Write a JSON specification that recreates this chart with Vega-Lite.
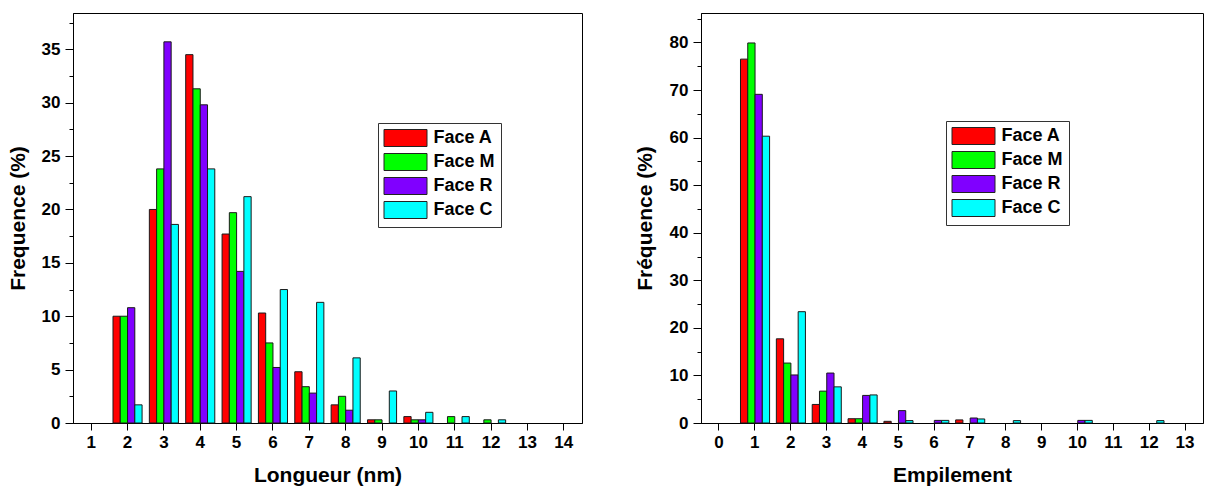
{
  "$schema": "https://vega.github.io/schema/vega-lite/v6.json",
  "background": "white",
  "padding": {"left": 6, "top": 12, "right": 0, "bottom": 0},
  "spacing": 50,
  "datasets": {
    "longueur": [
      {"x": 2, "face": "Face A", "value": 10.0}, {"x": 2, "face": "Face M", "value": 10.0}, {"x": 2, "face": "Face R", "value": 10.8}, {"x": 2, "face": "Face C", "value": 1.7},
      {"x": 3, "face": "Face A", "value": 20.0}, {"x": 3, "face": "Face M", "value": 23.8}, {"x": 3, "face": "Face R", "value": 35.7}, {"x": 3, "face": "Face C", "value": 18.6},
      {"x": 4, "face": "Face A", "value": 34.5}, {"x": 4, "face": "Face M", "value": 31.3}, {"x": 4, "face": "Face R", "value": 29.8}, {"x": 4, "face": "Face C", "value": 23.8},
      {"x": 5, "face": "Face A", "value": 17.7}, {"x": 5, "face": "Face M", "value": 19.7}, {"x": 5, "face": "Face R", "value": 14.2}, {"x": 5, "face": "Face C", "value": 21.2},
      {"x": 6, "face": "Face A", "value": 10.3}, {"x": 6, "face": "Face M", "value": 7.5}, {"x": 6, "face": "Face R", "value": 5.2}, {"x": 6, "face": "Face C", "value": 12.5},
      {"x": 7, "face": "Face A", "value": 4.8}, {"x": 7, "face": "Face M", "value": 3.4}, {"x": 7, "face": "Face R", "value": 2.8}, {"x": 7, "face": "Face C", "value": 11.3},
      {"x": 8, "face": "Face A", "value": 1.7}, {"x": 8, "face": "Face M", "value": 2.5}, {"x": 8, "face": "Face R", "value": 1.2}, {"x": 8, "face": "Face C", "value": 6.1},
      {"x": 9, "face": "Face A", "value": 0.3}, {"x": 9, "face": "Face M", "value": 0.3}, {"x": 9, "face": "Face C", "value": 3.0},
      {"x": 10, "face": "Face A", "value": 0.6}, {"x": 10, "face": "Face M", "value": 0.3}, {"x": 10, "face": "Face R", "value": 0.3}, {"x": 10, "face": "Face C", "value": 1.0},
      {"x": 11, "face": "Face M", "value": 0.6}, {"x": 11, "face": "Face C", "value": 0.6},
      {"x": 12, "face": "Face M", "value": 0.3}, {"x": 12, "face": "Face C", "value": 0.3}
    ],
    "empilement": [
      {"x": 1, "face": "Face A", "value": 76.5}, {"x": 1, "face": "Face M", "value": 79.9}, {"x": 1, "face": "Face R", "value": 69.1}, {"x": 1, "face": "Face C", "value": 60.3},
      {"x": 2, "face": "Face A", "value": 17.7}, {"x": 2, "face": "Face M", "value": 12.6}, {"x": 2, "face": "Face R", "value": 10.1}, {"x": 2, "face": "Face C", "value": 23.4},
      {"x": 3, "face": "Face A", "value": 3.9}, {"x": 3, "face": "Face M", "value": 6.7}, {"x": 3, "face": "Face R", "value": 10.5}, {"x": 3, "face": "Face C", "value": 7.6},
      {"x": 4, "face": "Face A", "value": 0.9}, {"x": 4, "face": "Face M", "value": 0.9}, {"x": 4, "face": "Face R", "value": 5.8}, {"x": 4, "face": "Face C", "value": 5.9},
      {"x": 5, "face": "Face A", "value": 0.35}, {"x": 5, "face": "Face R", "value": 2.6}, {"x": 5, "face": "Face C", "value": 0.5},
      {"x": 6, "face": "Face R", "value": 0.55}, {"x": 6, "face": "Face C", "value": 0.55},
      {"x": 7, "face": "Face A", "value": 0.65}, {"x": 7, "face": "Face R", "value": 1.05}, {"x": 7, "face": "Face C", "value": 0.85},
      {"x": 8, "face": "Face C", "value": 0.5},
      {"x": 10, "face": "Face R", "value": 0.55}, {"x": 10, "face": "Face C", "value": 0.55},
      {"x": 12, "face": "Face C", "value": 0.5}
    ]
  },
  "config": {
    "font": "Liberation Sans",
    "view": {"stroke": "#000", "strokeWidth": 1},
    "axis": {
      "grid": false,
      "domainColor": "#000", "domainWidth": 1,
      "tickColor": "#000", "tickWidth": 1,
      "labelColor": "#000", "labelFont": "Liberation Sans", "labelFontWeight": "bold", "labelFontSize": 17,
      "titleColor": "#000", "titleFont": "Liberation Sans", "titleFontWeight": "bold", "titleFontSize": 21
    },
    "legend": {
      "orient": "none",
      "symbolType": "M-2.6875,-1.0625H2.6875V1.0625H-2.6875Z",
      "symbolSize": 256,
      "symbolOffset": 12.5,
      "symbolStrokeColor": "#222",
      "symbolStrokeWidth": 1,
      "symbolOpacity": 1,
      "labelFont": "Liberation Sans",
      "labelFontWeight": "bold",
      "labelFontSize": 18,
      "labelColor": "#000",
      "labelOffset": 19,
      "labelLimit": 300,
      "rowPadding": 2,
      "padding": 6,
      "strokeColor": "#333",
      "fillColor": "white"
    }
  },
  "resolve": {"scale": {"color": "independent"}},
  "hconcat": [
    {
      "width": 509,
      "height": 410,
      "data": {"name": "longueur"},
      "mark": {"type": "bar", "stroke": "#1a1a1a", "strokeWidth": 1},
      "encoding": {
        "x": {
          "field": "x", "type": "ordinal",
          "scale": {"domain": [1,2,3,4,5,6,7,8,9,10,11,12,13,14], "paddingInner": 0, "paddingOuter": 0},
          "axis": {"title": "Longueur (nm)", "labelAngle": 0, "tickSize": 7, "labelPadding": 4, "titlePadding": 14}
        },
        "xOffset": {
          "field": "face", "type": "nominal",
          "scale": {"domain": ["Face A", "Face M", "Face R", "Face C"], "paddingInner": 0, "paddingOuter": 0.5}
        },
        "y": {
          "field": "value", "type": "quantitative",
          "scale": {"domain": [0, 38.4], "nice": false},
          "axis": {
            "title": "Frequence (%)",
            "values": [0,2.5,5,7.5,10,12.5,15,17.5,20,22.5,25,27.5,30,32.5,35,37.5],
            "labelExpr": "datum.value % 5 === 0 ? datum.label : ''",
            "tickSize": {"condition": {"test": "datum.value % 5 === 0", "value": 8}, "value": 4},
            "labelPadding": 5, "titlePadding": 13
          }
        },
        "color": {
          "field": "face", "type": "nominal",
          "scale": {"domain": ["Face A", "Face M", "Face R", "Face C"], "range": ["#ff0000", "#00ff00", "#8000ff", "#00ffff"]},
          "legend": {"title": null, "legendX": 305, "legendY": 110}
        }
      }
    },
    {
      "width": 502,
      "height": 410,
      "data": {"name": "empilement"},
      "mark": {"type": "bar", "stroke": "#1a1a1a", "strokeWidth": 1},
      "encoding": {
        "x": {
          "field": "x", "type": "ordinal",
          "scale": {"domain": [0,1,2,3,4,5,6,7,8,9,10,11,12,13], "paddingInner": 0, "paddingOuter": 0},
          "axis": {"title": "Empilement", "labelAngle": 0, "tickSize": 7, "labelPadding": 4, "titlePadding": 14}
        },
        "xOffset": {
          "field": "face", "type": "nominal",
          "scale": {"domain": ["Face A", "Face M", "Face R", "Face C"], "paddingInner": 0, "paddingOuter": 0.5}
        },
        "y": {
          "field": "value", "type": "quantitative",
          "scale": {"domain": [0, 86.2], "nice": false},
          "axis": {
            "title": "Fréquence (%)",
            "values": [0,5,10,15,20,25,30,35,40,45,50,55,60,65,70,75,80,85],
            "labelExpr": "datum.value % 10 === 0 ? datum.label : ''",
            "tickSize": {"condition": {"test": "datum.value % 10 === 0", "value": 8}, "value": 4},
            "labelPadding": 5, "titlePadding": 14
          }
        },
        "color": {
          "field": "face", "type": "nominal",
          "scale": {"domain": ["Face A", "Face M", "Face R", "Face C"], "range": ["#ff0000", "#00ff00", "#8000ff", "#00ffff"]},
          "legend": {"title": null, "legendX": 245, "legendY": 108}
        }
      }
    }
  ]
}
